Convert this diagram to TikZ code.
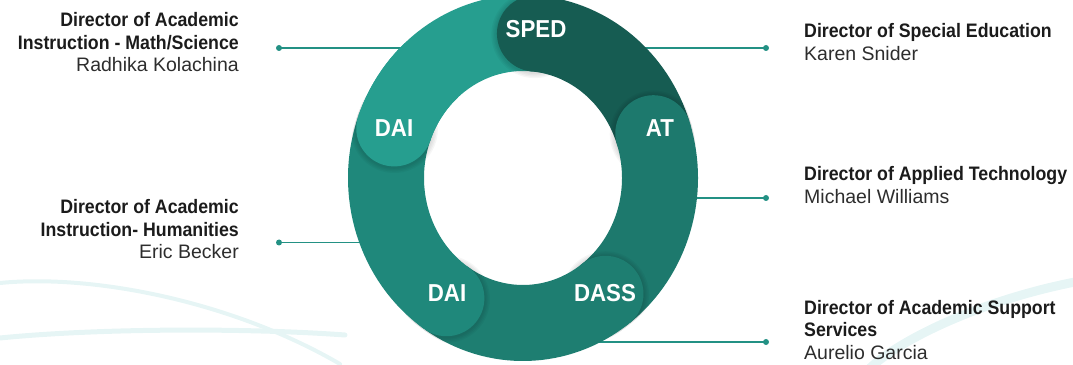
\documentclass[tikz,border=0pt]{standalone}
\usepackage{fontspec}
\setmainfont{Liberation Sans}[BoldFeatures={FakeStretch=0.91}]
\usetikzlibrary{calc}
\definecolor{cDAItop}{RGB}{38,158,143}
\definecolor{cSPED}{RGB}{22,92,82}
\definecolor{cAT}{RGB}{29,121,109}
\definecolor{cDASS}{RGB}{30,126,113}
\definecolor{cDAIbot}{RGB}{31,136,123}
\definecolor{cLine}{RGB}{35,145,132}
\definecolor{cWave}{RGB}{230,245,245}
\definecolor{cTitle}{RGB}{27,27,27}
\definecolor{cName}{RGB}{45,45,45}
\begin{document}
\begin{tikzpicture}[x=1pt,y=1pt,
  ringarc/.style={line width=76pt},
  title/.style={inner sep=0pt, text=cTitle, font=\fontsize{19.5}{22}\selectfont\bfseries},
  pname/.style={inner sep=0pt, text=cName, font=\fontsize{19.5}{22}\selectfont},
  seglabel/.style={inner sep=0pt, text=white, font=\fontsize{24.5}{26}\selectfont\bfseries},
  conn/.style={draw=cLine, line width=1.4pt},
  dot/.style={fill=cLine},
  wave/.style={draw=cWave, line cap=round}]
\useasboundingbox (0,0) rectangle (1073,364);
\coordinate (C) at (523,186);
% faint background waves
\draw[wave, line width=4pt] (0,81) .. controls (90,90) and (230,64) .. (340,0);
\draw[wave, line width=5pt] (0,26) .. controls (100,36) and (250,36) .. (345,29);
\draw[wave, line width=9pt] (1080,83) .. controls (980,64) and (900,24) .. (870,-4);
% connector end points
\coordinate (dL1) at (279,316);
\coordinate (eL1) at (410,316);
\coordinate (dL2) at (279,121.5);
\coordinate (eL2) at (368,121.5);
\coordinate (dR1) at (766,316);
\coordinate (eR1) at (640,316);
\coordinate (dR2) at (766,166);
\coordinate (eR2) at (688,166);
\coordinate (dR3) at (766,22);
\coordinate (eR3) at (590,22);
\draw[conn] (dL1) -- (eL1);
\draw[conn] (dL2) -- (eL2);
\draw[conn] (dR1) -- (eR1);
\draw[conn] (dR2) -- (eR2);
\draw[conn] (dR3) -- (eR3);
\foreach \d in {dL1,dL2,dR1,dR2,dR3} \fill[dot] (\d) circle[radius=3];
% cap centres
\coordinate (kDAItop) at ($(C)+(160:137 and 145)$);
\coordinate (kSPED) at ($(C)+(85:137 and 145)$);
\coordinate (kAT) at ($(C)+(18:137 and 145)$);
\coordinate (kDASS) at ($(C)+(-53:137 and 145)$);
\coordinate (kDAIbot) at ($(C)+(-124:137 and 145)$);
% ring
\newcommand{\capshadow}[1]{%
  \begin{scope}
    \clip (C) ellipse[x radius=176, y radius=184];
    \foreach \k in {1,...,4}
      \fill[black, opacity=0.035] ($(#1)+(0,-1)$) circle[radius=38+1.4*\k];
  \end{scope}}
\draw[ringarc, cDAItop] (kDAItop) arc[start angle=160, end angle=85, x radius=137, y radius=145];
\capshadow{kSPED}
\fill[cSPED] (kSPED) circle[radius=38];
\draw[ringarc, cSPED] (kSPED) arc[start angle=85, end angle=18, x radius=137, y radius=145];
\capshadow{kAT}
\fill[cAT] (kAT) circle[radius=38];
\draw[ringarc, cAT] (kAT) arc[start angle=18, end angle=-53, x radius=137, y radius=145];
\capshadow{kDASS}
\fill[cDASS] (kDASS) circle[radius=38];
\draw[ringarc, cDASS] (kDASS) arc[start angle=-53, end angle=-124, x radius=137, y radius=145];
\capshadow{kDAIbot}
\fill[cDAIbot] (kDAIbot) circle[radius=38];
\draw[ringarc, cDAIbot] (kDAIbot) arc[start angle=-124, end angle=-200, x radius=137, y radius=145];
\capshadow{kDAItop}
\fill[cDAItop] (kDAItop) circle[radius=38];
\draw[ringarc, cDAItop] (kDAItop) arc[start angle=160, end angle=132, x radius=137, y radius=145];
% segment labels
\node[seglabel] (lSPED) at (536,335) {SPED};
\node[seglabel] (lAT) at (660,236) {AT};
\node[seglabel] (lDASS) at (605,71) {DASS};
\node[seglabel] (lDAIb) at (447,71) {DAI};
\node[seglabel] (lDAIt) at (394,236) {DAI};
% left texts
\node[title, anchor=base east] (tL1a) at (239,337) {Director of Academic};
\node[title, anchor=base east] (tL1b) at (239,314.7) {Instruction - Math/Science};
\node[pname, anchor=base east] (tL1c) at (239,292.5) {Radhika Kolachina};
\node[title, anchor=base east] (tL2a) at (239,150) {Director of Academic};
\node[title, anchor=base east] (tL2b) at (239,127.7) {Instruction- Humanities};
\node[pname, anchor=base east] (tL2c) at (239,105.4) {Eric Becker};
% right texts
\node[title, anchor=base west] (tR1a) at (804,326.5) {Director of Special Education};
\node[pname, anchor=base west] (tR1b) at (804,303.5) {Karen Snider};
\node[title, anchor=base west] (tR2a) at (804,183) {Director of Applied Technology};
\node[pname, anchor=base west] (tR2b) at (804,160) {Michael Williams};
\node[title, anchor=base west] (tR3a) at (804,49.7) {Director of Academic Support};
\node[title, anchor=base west] (tR3b) at (804,27.5) {Services};
\node[pname, anchor=base west] (tR3c) at (804,5) {Aurelio Garcia};
\end{tikzpicture}
\end{document}
